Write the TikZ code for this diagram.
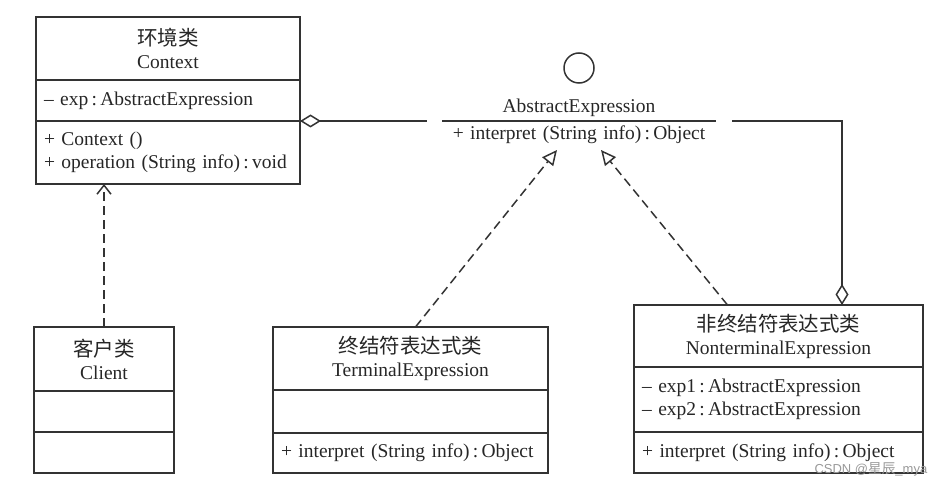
\documentclass[tikz,border=0pt]{standalone}
\usepackage{fontspec}
\setmainfont{Liberation Serif}
\newfontfamily\cjk[Scale=1.05]{Noto Sans CJK SC}
\newfontfamily\marksans{Liberation Sans}
\usetikzlibrary{arrows.meta}

\begin{document}
\begin{tikzpicture}[x=1pt, y=-1pt, line width=1.5pt, color=black!80,
    txt/.style={font=\fontsize{19.5}{23}\selectfont, text=black!85},
    part/.style={txt, draw, anchor=north west, inner xsep=8pt, inner ysep=0pt, outer sep=0pt, align=left},
    head/.style={part, align=center},
    dep/.style={dash pattern=on 9pt off 5pt},
    inherit/.style={dep, -{Triangle[open, length=15pt, width=14pt]}},
    aggr/.style={{Diamond[open, length=21pt, width=13pt]}-}
]
    \useasboundingbox (0,0) rectangle (944,486);

    % Context class
    \node[head, text width=248pt, minimum height=63pt] (ctxhead) at (36,17) {{\cjk 环境类}\\Context};
    \node[part, text width=248pt, minimum height=41pt] (ctxattr) at (ctxhead.south west) {-- exp\,:\,AbstractExpression};
    \node[part, text width=248pt, minimum height=63pt] (ctxops) at (ctxattr.south west) {+ Context ()\\+ operation (String info)\,:\,void};

    % Client class
    \node[head, text width=124pt, minimum height=64pt] (clhead) at (34,327) {{\cjk 客户类}\\Client};
    \node[part, text width=124pt, minimum height=41pt] (clattr) at (clhead.south west) {};
    \node[part, text width=124pt, minimum height=41pt] (clops) at (clattr.south west) {};

    % AbstractExpression interface
    \node[draw, circle, minimum size=30pt, inner sep=0pt] (lolli) at (579,68) {};
    \node[txt, anchor=south, text width=272pt, align=center, inner xsep=0pt, inner ysep=4pt] (absname) at (579,121) {AbstractExpression};
    \node[txt, anchor=north, text width=272pt, align=center, inner xsep=0pt, inner ysep=4pt] (absop) at (579,121) {+ interpret (String info)\,:\,Object};
    \draw (absname.south west) -- (absname.south east);

    % TerminalExpression class
    \node[head, text width=259pt, minimum height=63pt] (tmhead) at (273,327) {{\cjk 终结符表达式类}\\TerminalExpression};
    \node[part, text width=259pt, minimum height=43pt] (tmattr) at (tmhead.south west) {};
    \node[part, text width=259pt, minimum height=40pt] (tmops) at (tmattr.south west) {+ interpret (String info)\,:\,Object};

    % NonterminalExpression class
    \node[head, text width=273pt, minimum height=62pt] (nthead) at (634,305) {{\cjk 非终结符表达式类}\\NonterminalExpression};
    \node[part, text width=273pt, minimum height=65pt] (ntattr) at (nthead.south west) {-- exp1\,:\,AbstractExpression\\-- exp2\,:\,AbstractExpression};
    \node[part, text width=273pt, minimum height=41pt] (ntops) at (ntattr.south west) {+ interpret (String info)\,:\,Object};

    % free ends
    \coordinate (aggL) at (427,121);
    \coordinate (aggR) at (732,121);
    \coordinate (tipL) at (557,150);
    \coordinate (tipR) at (601,150);

    % connectors
    \draw[aggr] (ctxops.north east) -- (aggL);
    \draw[aggr] ([xshift=63.5pt]nthead.north) |- (aggR);
    \draw[inherit] ([xshift=5pt]tmhead.north) -- (tipL);
    \draw[inherit] ([xshift=-51pt]nthead.north) -- (tipR);
    \draw[dep, -{Straight Barb[length=9pt, width=14pt]}] (clhead.north) -- (clhead.north |- ctxops.south);

    % watermark
    \node[anchor=east, text=black!40, font=\marksans\fontsize{13}{13}\selectfont, inner sep=0pt] (mark) at (928,469) {CSDN @{\cjk 星辰}\_mya};
\end{tikzpicture}
\end{document}
